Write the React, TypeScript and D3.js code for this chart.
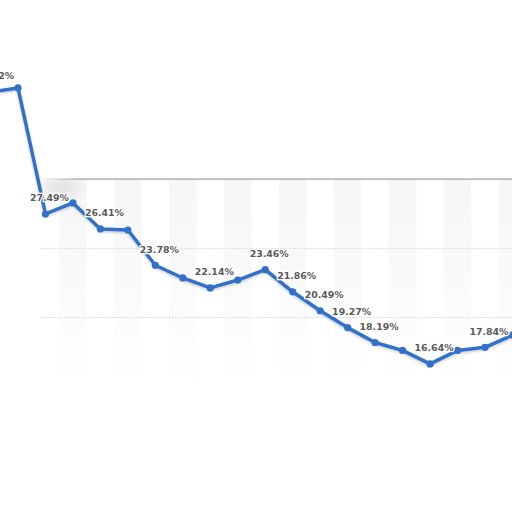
import React from 'react';
import * as d3 from 'd3';

// one entry per period; the first and last fall outside the visible frame
const periods = d3.range(20).map(i => `P${i + 1}`);
const rates = [
  36.32, 36.61, 27.49, 28.29, 26.41, 26.33, 23.78, 22.86, 22.14, 22.71,
  23.46, 21.86, 20.49, 19.27, 18.19, 17.62, 16.64, 17.62, 17.84, 18.73,
];
// which points carry a value label
const labelled = [
  true, false, true, false, true, false, true, false, true, false,
  true, true, true, true, true, false, true, false, true, false,
];
const gridTicks = [20, 25];
const yDomain: [number, number] = [15, 30];

const W = 512;
const H = 512;

const App: React.FC = () => {
  const x = d3.scaleLinear().domain([1, 18]).range([18, 485]);
  const y = d3.scaleLinear().domain(yDomain).range([386.6, 179.3]);
  const step = x(1) - x(0);

  const plotLeft = 40;
  const plotTop = y(yDomain[1]);
  const plotBottom = y(yDomain[0]);

  const line = d3.line<number>()
    .x((_, i) => x(i))
    .y(d => y(d));

  return (
    <svg
      width={W}
      height={H}
      style={{ position: 'fixed', left: 0, top: 0, background: '#fff' }}
    >
      <defs>
        <linearGradient id="band" x1="0" y1="0" x2="0" y2="1">
          <stop offset="0%" stopColor="#f6f6f6" />
          <stop offset="50%" stopColor="#fafafa" />
          <stop offset="100%" stopColor="#ffffff" />
        </linearGradient>
        <linearGradient id="topEdge" x1="0" y1="0" x2="1" y2="0">
          <stop offset="0%" stopColor="#b4b4b4" stopOpacity={0} />
          <stop offset="8%" stopColor="#b4b4b4" stopOpacity={1} />
          <stop offset="100%" stopColor="#b4b4b4" stopOpacity={1} />
        </linearGradient>
        <filter id="blur" x="-50%" y="-50%" width="200%" height="200%">
          <feGaussianBlur stdDeviation="6" />
        </filter>
        <filter id="shadow" x="-10%" y="-10%" width="120%" height="120%">
          <feDropShadow dx="0" dy="1.5" stdDeviation="1" floodColor="#000" floodOpacity="0.2" />
        </filter>
        <clipPath id="plot">
          <rect x={plotLeft} y={plotTop} width={W - plotLeft} height={plotBottom - plotTop} />
        </clipPath>
      </defs>

      {/* alternating background bands */}
      <g clipPath="url(#plot)">
        {periods.map((p, i) => i % 2 === 1 && (
          <rect
            key={p}
            x={x(i) - step / 2}
            y={plotTop}
            width={step}
            height={plotBottom - plotTop}
            fill="url(#band)"
          />
        ))}
        <ellipse cx={plotLeft + 20} cy={plotTop + 8} rx={20} ry={9} fill="#e2e2e2" filter="url(#blur)" />
      </g>

      {/* grid */}
      {gridTicks.map(t => (
        <line
          key={t}
          x1={plotLeft}
          x2={W}
          y1={y(t)}
          y2={y(t)}
          stroke="#cccccc"
          strokeWidth={0.8}
          strokeDasharray="1.5,1.5"
        />
      ))}
      <rect x={plotLeft} y={plotTop - 1} width={W - plotLeft} height={1.6} fill="url(#topEdge)" />

      {/* series */}
      <path
        d={line(rates) ?? ''}
        fill="none"
        stroke="#3271c8"
        strokeWidth={3.5}
        strokeLinejoin="round"
        filter="url(#shadow)"
      />
      {rates.map((v, i) => (
        <circle key={periods[i]} cx={x(i)} cy={y(v)} r={3.6} fill="#3271c8" />
      ))}

      {/* value labels */}
      {rates.map((v, i) => labelled[i] && (
        <text
          key={periods[i]}
          x={x(i) + 4}
          y={y(v) - 12.5}
          textAnchor="middle"
          fontFamily="'DejaVu Sans', Verdana, sans-serif"
          fontSize={9.4}
          fontWeight="bold"
          fill="#5a5a5a"
          stroke="#fff"
          strokeWidth={2.5}
          paintOrder="stroke"
        >
          {`${v.toFixed(2)}%`}
        </text>
      ))}
    </svg>
  );
};

export default App;
